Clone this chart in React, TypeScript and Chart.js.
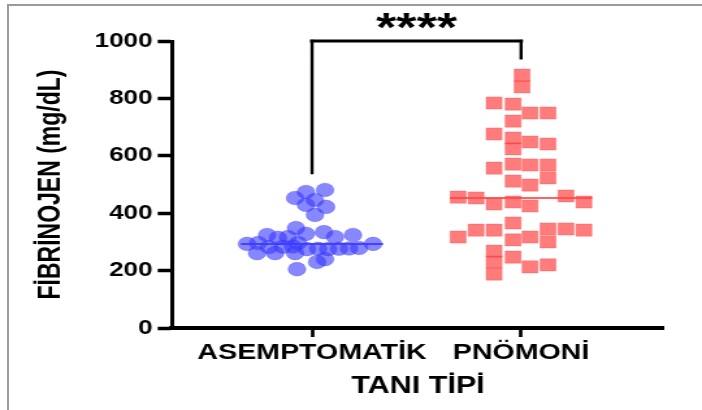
import React, { useEffect, useRef } from 'react';
import { Chart, registerables } from 'chart.js';

Chart.register(...registerables);

// ---------------- data ----------------
const categories = ['ASEMPTOMATİK', 'PNÖMONİ'];
const yTickValues = [0, 200, 400, 600, 800, 1000];
const yTitle = 'FİBRİNOJEN (mg/dL)';
const xTitle = 'TANI TİPİ';
const significance = '****';

// ASEMPTOMATİK group (fibrinogen, mg/dL) and horizontal jitter (category units)
const asemptomatikValues = [
  481, 474, 453, 446, 429, 422, 394,
  348, 334, 324, 328, 317, 324, 314, 317,
  293, 296, 293, 296, 282, 283, 284, 275, 276, 275, 276, 277, 279,
  261, 261, 261, 230, 240, 205,
];
const asemptomatikJitter = [
  0.062, -0.029, -0.081, 0.014, -0.029, 0.067, 0.014,
  -0.077, 0.057, -0.215, -0.029, 0.11, 0.196, -0.163, -0.115,
  -0.311, -0.258, 0.292, -0.067, -0.206, -0.139, -0.091, -0.024, 0.029, 0.077, 0.129, 0.177, 0.225,
  -0.263, -0.177, -0.081, 0.024, 0.062, -0.072,
];

// PNÖMONİ group
const pnomoniValues = [
  881, 840, 784, 780, 749, 749, 721,
  676, 662, 648, 641, 624,
  557, 571, 568, 568,
  512, 498, 523,
  456, 453, 432, 439, 425, 460, 439,
  317, 341, 341, 366, 307, 317, 345, 300, 345, 341,
  268, 230, 188, 247, 213, 220,
];
const pnomoniJitter = [
  0.005, 0.005, -0.129, -0.038, 0.043, 0.129, -0.038,
  -0.129, -0.038, 0.043, 0.129, -0.038,
  -0.129, -0.038, 0.043, 0.129,
  -0.038, 0.043, 0.129,
  -0.301, -0.215, -0.129, -0.038, 0.043, 0.215, 0.301,
  -0.301, -0.215, -0.129, -0.038, -0.038, 0.043, 0.129, 0.129, 0.215, 0.301,
  -0.129, -0.129, -0.129, -0.038, 0.043, 0.129,
];

// median lines
const medians = [293, 453];
const medianHalfWidth = 0.34;

// significance bracket (y values)
const bracketTop = 1000;
const bracketLeftBottom = 540;
const bracketRightBottom = 940;

// ---------------- layout ----------------
const STRETCH = 1.3; // the reference is horizontally stretched
const W = 702;
const H = 410;
const IW = Math.round(W / STRETCH);
const FONT = '"Liberation Sans", Arial, sans-serif';

const bracketPlugin = {
  id: 'bracket',
  afterDatasetsDraw(chart: any) {
    const xs = chart.scales.x;
    const ys = chart.scales.y;
    const ctx = chart.ctx;
    const x0 = xs.getPixelForValue(0);
    const x1 = xs.getPixelForValue(1);
    const yt = ys.getPixelForValue(bracketTop);
    ctx.save();
    ctx.strokeStyle = '#000';
    ctx.lineCap = 'square';
    ctx.lineWidth = 2.4;
    ctx.beginPath();
    ctx.moveTo(x0, yt);
    ctx.lineTo(x0, ys.getPixelForValue(bracketLeftBottom));
    ctx.moveTo(x1, yt);
    ctx.lineTo(x1, ys.getPixelForValue(bracketRightBottom));
    ctx.stroke();
    ctx.lineWidth = 3;
    ctx.beginPath();
    ctx.moveTo(x0, yt);
    ctx.lineTo(x1, yt);
    ctx.stroke();
    ctx.fillStyle = '#000';
    ctx.font = `bold 40px ${FONT}`;
    ctx.textAlign = 'center';
    ctx.textBaseline = 'alphabetic';
    ctx.fillText(significance, (x0 + x1) / 2, 41);
    ctx.restore();
  },
};

export default function App() {
  const ref = useRef<HTMLCanvasElement>(null);

  useEffect(() => {
    const canvas = ref.current;
    if (!canvas) return;
    const blue = asemptomatikValues.map((v, i) => ({ x: 0 + asemptomatikJitter[i], y: v }));
    const red = pnomoniValues.map((v, i) => ({ x: 1 + pnomoniJitter[i], y: v }));
    const medianSets = medians.map((m, i) => ({
      label: 'median ' + categories[i],
      data: [
        { x: i - medianHalfWidth, y: m },
        { x: i + medianHalfWidth, y: m },
      ],
      showLine: true,
      borderColor: i === 0 ? 'rgba(60,60,255,0.9)' : 'rgba(255,70,70,0.85)',
      borderWidth: 2,
      pointRadius: 0,
      order: 0,
    }));

    const chart = new Chart(canvas, {
      type: 'scatter',
      data: {
        datasets: [
          ...medianSets,
          {
            label: categories[0],
            data: blue,
            pointStyle: 'circle',
            pointRadius: 6.8,
            backgroundColor: 'rgba(55,55,255,0.6)',
            borderColor: 'rgba(55,55,255,0.3)',
            borderWidth: 1,
            order: 1,
          },
          {
            label: categories[1],
            data: red,
            pointStyle: 'rect',
            pointRadius: 8.6,
            backgroundColor: 'rgba(255,50,50,0.64)',
            borderColor: 'rgba(255,60,60,0.3)',
            borderWidth: 1,
            order: 1,
          },
        ],
      } as any,
      options: {
        responsive: false,
        devicePixelRatio: 1,
        animation: false,
        layout: { padding: { top: 41, right: IW - 664 / STRETCH, left: 0, bottom: 0 } },
        plugins: {
          legend: { display: false },
          tooltip: { enabled: false },
        },
        scales: {
          x: {
            type: 'linear',
            min: -0.67,
            max: 1.684,
            afterBuildTicks: (s: any) => {
              s.ticks = categories.map((_, i) => ({ value: i }));
            },
            afterFit: (s: any) => {
              s.height = H - 328;
            },
            ticks: {
              callback: (v: any) => categories[Math.round(Number(v))] ?? '',
              font: { family: FONT, size: 22, weight: 'bold' },
              color: '#000',
              padding: 3,
              autoSkip: false,
              maxRotation: 0,
            },
            grid: {
              drawOnChartArea: false,
              drawTicks: true,
              tickLength: 9,
              tickWidth: 2.7,
              tickColor: '#000',
            },
            border: { display: true, color: '#000', width: 4 },
            title: {
              display: true,
              text: xTitle,
              color: '#000',
              font: { family: FONT, size: 23.5, weight: 'bold' },
              padding: { top: 0, bottom: 9 },
            },
          },
          y: {
            type: 'linear',
            min: 0,
            max: 1000,
            afterBuildTicks: (s: any) => {
              s.ticks = yTickValues.map((v) => ({ value: v }));
            },
            afterFit: (s: any) => {
              s.width = 172 / STRETCH;
            },
            ticks: {
              callback: (v: any) => String(v),
              font: { family: FONT, size: 20, weight: 'bold' },
              color: '#000',
              padding: 4,
            },
            grid: {
              drawOnChartArea: false,
              drawTicks: true,
              tickLength: 11,
              tickWidth: 3.5,
              tickColor: '#000',
            },
            border: { display: true, color: '#000', width: 3 },
            title: {
              display: true,
              text: yTitle,
              color: '#000',
              font: { family: FONT, size: 23, weight: 'bold' },
              padding: { top: 26, bottom: 0 },
            },
          },
        },
      } as any,
      plugins: [bracketPlugin],
    });
    return () => chart.destroy();
  }, []);

  return (
    <div
      style={{
        position: 'fixed',
        left: 0,
        top: 0,
        width: W,
        height: H,
        background: '#fff',
        overflow: 'hidden',
      }}
    >
      <div
        style={{
          position: 'absolute',
          left: 7,
          top: 4,
          right: 0,
          bottom: 0,
          borderTop: '2px solid #9a9a9a',
          borderLeft: '2px solid #9a9a9a',
        }}
      />
      <div
        style={{
          position: 'absolute',
          left: 0,
          top: 0,
          width: IW,
          height: H,
          transform: `scaleX(${STRETCH})`,
          transformOrigin: '0 0',
        }}
      >
        <canvas ref={ref} width={IW} height={H} />
      </div>
    </div>
  );
}
